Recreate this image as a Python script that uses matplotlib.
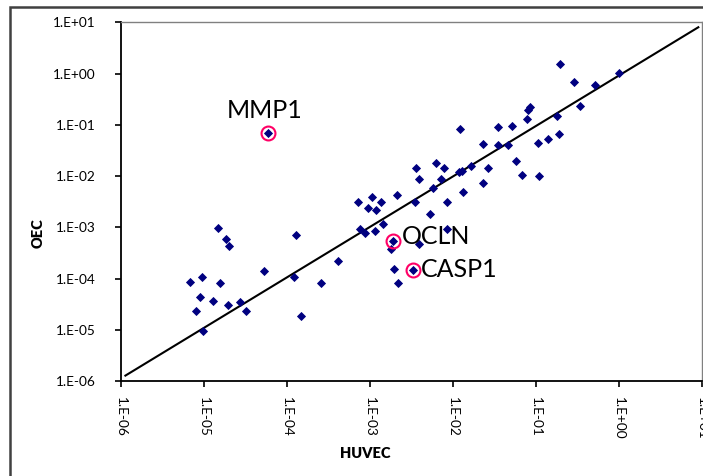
import numpy as np
import matplotlib
matplotlib.use("Agg")
from matplotlib import pyplot as plt
from matplotlib.patches import Rectangle

plt.rcParams['font.family'] = ['Lato', 'DejaVu Sans']

# log10 values
huvec_log = [-5.168, -5.024, -4.807, -4.825, -4.734, -4.695, -5.051, -4.895, -5.096, -4.707,
             -4.566, -4.491, -5.008, -4.273, -3.885, -3.909, -3.830, -3.595, -3.381, -4.232,
             -3.140, -2.980, -2.868, -2.677, -3.019, -2.932, -3.119, -3.062, -2.935, -2.836,
             -2.718, -2.749, -2.405, -2.706, -2.477, -2.665, -2.456, -2.275, -2.073, -2.067,
             -2.237, -2.444, -2.404, -2.204, -2.104, -2.146, -1.914, -1.872, -1.920, -1.887,
             -1.781, -1.640, -1.640, -1.580, -1.450, -1.450, -1.331, -1.290, -1.239, -1.163,
             -0.964, -1.102, -0.977, -0.849, -0.717, -0.744, -1.066, -1.098, -0.705, -0.545,
             -0.461, -0.283, -0.001]
oec_log = [-4.069, -3.960, -4.083, -3.011, -3.235, -3.361, -4.356, -4.440, -4.623, -4.518,
           -4.459, -4.623, -5.019, -3.853, -3.153, -3.966, -4.726, -4.083, -3.648, -1.164,
           -2.509, -2.402, -2.509, -2.367, -2.615, -2.660, -3.024, -3.114, -3.069, -2.938,
           -3.270, -3.424, -3.326, -3.816, -3.833, -4.077, -2.509, -2.741, -2.509, -3.030,
           -2.236, -1.850, -2.055, -1.739, -1.850, -2.055, -1.080, -2.318, -1.919, -1.905,
           -1.802, -1.373, -2.133, -1.850, -1.037, -1.388, -1.392, -1.022, -1.700, -1.973,
           -1.993, -0.880, -1.349, -1.269, -1.184, -0.821, -0.651, -0.714, 0.187, -0.170,
           -0.628, -0.232, 0.021]
huvec = 10 ** np.array(huvec_log)
oec = 10 ** np.array(oec_log)

# highlighted genes: name, index into the arrays above
genes = ['MMP1', 'OCLN', 'CASP1']
gene_idx = [19, 30, 34]

# power trendline y = a * x^b
trend_a = 0.912
trend_b = 0.9835
trend_x = np.array([1.13e-6, 9.1])

ticks = [1e-6, 1e-5, 1e-4, 1e-3, 1e-2, 1e-1, 1e0, 1e1]
tick_labels = ['1.E-06', '1.E-05', '1.E-04', '1.E-03', '1.E-02', '1.E-01', '1.E+00', '1.E+01']

fig = plt.figure(figsize=(7.03, 4.76), dpi=100)
ax = fig.add_axes([121 / 703, 1 - 381.3 / 476, 580.7 / 703, 359 / 476])

ax.plot(huvec, oec, linestyle='none', marker='D', ms=3.7, color='#000080', mec='#000080', mew=0.6, zorder=3)
ax.plot(trend_x, trend_a * trend_x ** trend_b, color='black', lw=1.5, zorder=2)

for name, i in zip(genes, gene_idx):
    ax.plot(huvec[i], oec[i], marker='o', ms=10, mfc='none', mec='#ff0066', mew=1.5, zorder=4)

ax.text(huvec[19] * 0.93, oec[19] * 1.96, 'MMP1', fontsize=18, ha='center', va='baseline')
ax.text(huvec[30] * 1.28, oec[30] * 1.25, 'OCLN', fontsize=18, ha='left', va='center')
ax.text(huvec[34] * 1.24, oec[34] * 1.05, 'CASP1', fontsize=18, ha='left', va='center')

ax.set_xscale('log')
ax.set_yscale('log')
ax.set_xlim(1e-6, 1e1)
ax.set_ylim(1e-6, 1e1)
ax.set_xticks(ticks)
ax.set_xticklabels(tick_labels, rotation=-90)
ax.set_yticks(ticks)
ax.set_yticklabels(tick_labels)
ax.minorticks_off()
ax.tick_params(axis='both', direction='out', length=4, width=1.2, labelsize=9.8, colors='black')
ax.tick_params(axis='y', pad=14)
ax.tick_params(axis='x', pad=7)

for s in ['left', 'bottom']:
    ax.spines[s].set_color('black')
    ax.spines[s].set_linewidth(1.3)
for s in ['top', 'right']:
    ax.spines[s].set_color('#808080')
    ax.spines[s].set_linewidth(1)

fig.text(38 / 703, 1 - 233 / 476, 'OEC', rotation=90, fontsize=10.5, fontweight='heavy', ha='center', va='center')
fig.text(365 / 703, 1 - 454 / 476, 'HUVEC', fontsize=10.5, fontweight='heavy', ha='center', va='center')

# outer chart frame
fig.patches.append(Rectangle((10 / 703, -0.1), 1.2, 1.1 - 7 / 476, transform=fig.transFigure,
                             fill=False, edgecolor='#404040', lw=1.8, clip_on=False))

fig.savefig('out.png', dpi=100)
